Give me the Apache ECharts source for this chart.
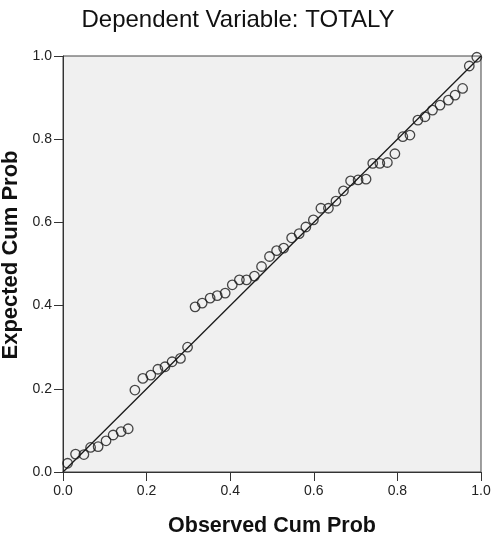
<!DOCTYPE html>
<html>
<head>
<meta charset="utf-8">
<script src="https://cdn.jsdelivr.net/npm/echarts@6/dist/echarts.min.js"></script>
<style>
html,body{margin:0;padding:0;background:#fff;}
#chart{width:491px;height:536px;}
</style>
</head>
<body>
<div id="chart"></div>
<script>
var titleText = 'Dependent Variable: TOTALY';
var xAxisName = 'Observed Cum Prob';
var yAxisName = 'Expected Cum Prob';
var tickValues = [0, 0.2, 0.4, 0.6, 0.8, 1.0];

var observed = [0.011,0.030,0.050,0.066,0.084,0.103,0.120,0.139,0.156,0.172,
  0.191,0.210,0.227,0.244,0.261,0.281,0.298,0.316,0.333,0.352,
  0.369,0.388,0.405,0.422,0.439,0.458,0.475,0.494,0.511,0.528,
  0.547,0.565,0.581,0.599,0.617,0.635,0.653,0.671,0.688,0.706,
  0.725,0.741,0.758,0.776,0.794,0.813,0.830,0.849,0.866,0.884,
  0.902,0.922,0.938,0.956,0.972,0.990];
var expected = [0.021,0.043,0.042,0.059,0.061,0.075,0.089,0.097,0.104,0.197,
  0.225,0.233,0.247,0.253,0.265,0.273,0.300,0.397,0.406,0.418,
  0.424,0.430,0.450,0.462,0.462,0.471,0.494,0.518,0.532,0.538,
  0.563,0.573,0.589,0.606,0.634,0.634,0.651,0.676,0.700,0.702,
  0.704,0.742,0.742,0.744,0.765,0.806,0.810,0.846,0.854,0.870,
  0.882,0.894,0.906,0.922,0.976,0.997];
var refLineX = [0, 1];
var refLineY = [0, 1];

var points = observed.map(function(v, i){ return [v, expected[i]]; });
var linePts = refLineX.map(function(v, i){ return [v, refLineY[i]]; });

var chart = echarts.init(document.getElementById('chart'), null, {renderer:'canvas'});
var axisColor = '#333';
var fontFam = '"Liberation Sans", Arial, sans-serif';
chart.setOption({
  animation: false,
  backgroundColor: '#ffffff',
  title: {
    text: titleText,
    left: 233,
    top: 3,
    textAlign: 'center',
    textStyle: {fontFamily: fontFam, fontSize: 24, fontWeight: 'normal', color: '#111'}
  },
  grid: {
    left: 63, right: 10, top: 56, bottom: 64,
    containLabel: false, outerBoundsMode: 'none',
    show: true, backgroundColor: '#f0f0f0', borderColor: '#444', borderWidth: 1
  },
  xAxis: {
    type: 'value', min: tickValues[0], max: tickValues[tickValues.length-1], interval: 0.2,
    name: xAxisName, nameLocation: 'middle', nameGap: 43,
    nameTextStyle: {fontFamily: fontFam, fontSize: 21.5, fontWeight: 'bold', color: '#111'},
    axisLine: {show: true, lineStyle: {color: axisColor, width: 1}},
    axisTick: {show: true, inside: false, length: 9, lineStyle: {color: axisColor}},
    axisLabel: {fontFamily: fontFam, fontSize: 14, color: '#222', margin: 12,
      formatter: function(v){ return v.toFixed(1); }},
    splitLine: {show: false}
  },
  yAxis: {
    type: 'value', min: tickValues[0], max: tickValues[tickValues.length-1], interval: 0.2,
    name: yAxisName, nameLocation: 'middle', nameGap: 33,
    nameTextStyle: {fontFamily: fontFam, fontSize: 22, fontWeight: 'bold', color: '#111',
      padding: [0, 0, 0, 18]},
    axisLine: {show: true, lineStyle: {color: axisColor, width: 1}},
    axisTick: {show: true, inside: false, length: 9, lineStyle: {color: axisColor}},
    axisLabel: {fontFamily: fontFam, fontSize: 14, color: '#222', margin: 11,
      formatter: function(v){ return v.toFixed(1); }},
    splitLine: {show: false}
  },
  series: [
    {
      type: 'line', data: linePts, symbol: 'none', silent: true,
      lineStyle: {color: '#1a1a1a', width: 1.3}, z: 2
    },
    {
      type: 'scatter', data: points, symbol: 'circle', symbolSize: 9.5,
      itemStyle: {color: 'rgba(0,0,0,0)', borderColor: '#1a1a1a', borderWidth: 1.3}, z: 3
    }
  ]
});
</script>
</body>
</html>
